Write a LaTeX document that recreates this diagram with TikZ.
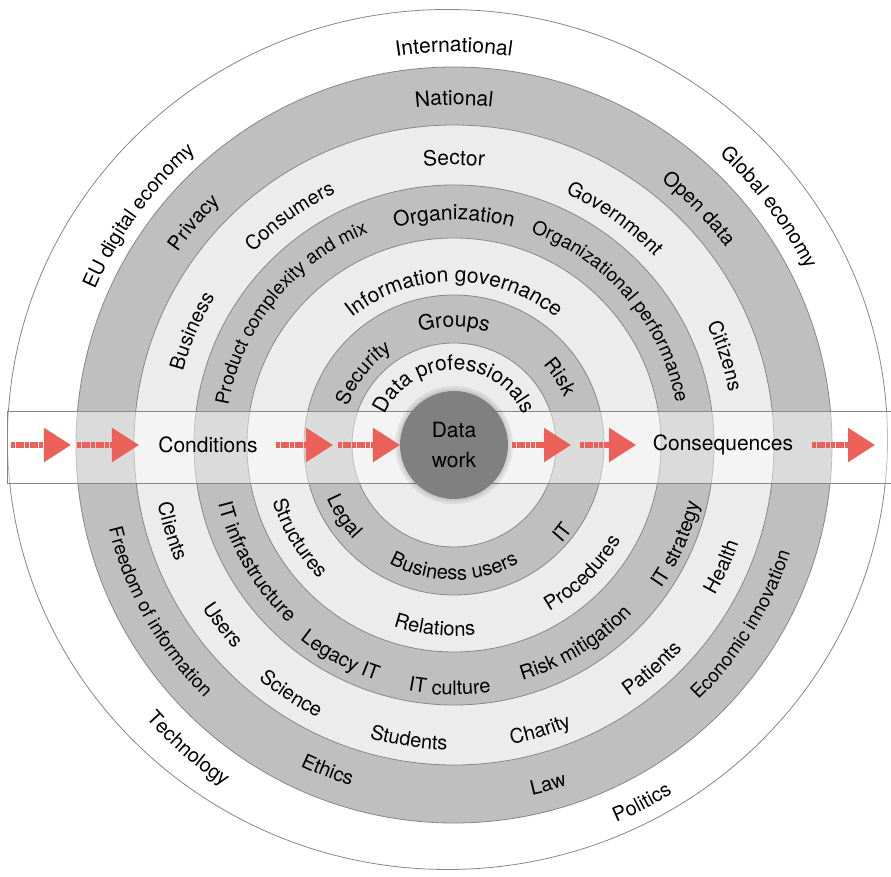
\documentclass[tikz,border=0pt]{standalone}
\usepackage{fontspec}
\setmainfont{TeX Gyre Heros}
\usetikzlibrary{arrows.meta,decorations.text}

\definecolor{ringdark}{RGB}{191,191,191}
\definecolor{ringlight}{RGB}{236,236,236}
\definecolor{ringline}{RGB}{135,135,135}
\definecolor{arrowred}{RGB}{236,96,90}
\definecolor{workgray}{RGB}{128,128,128}

\tikzset{
  ring/.style={draw=ringline, line width=0.8pt},
  flow/.style={arrowred, line width=5.5pt, dash pattern=on 4pt off 0.7pt,
    -{Triangle[length=27pt, width=33pt]}},
  worknode/.style={circle, fill=workgray, minimum size=108pt, inner sep=0pt, align=center},
}

\newcommand{\toplabel}[4][20]{%
  {\fontsize{#1}{24}\selectfont
  \path[decorate, decoration={text along path, text={#4}, text align=center}]
    ({#2+90}:{#3-7}) arc[start angle={#2+90}, end angle={#2-90}, radius={#3-7}];}}
\newcommand{\botlabel}[4][20]{%
  {\fontsize{#1}{24}\selectfont
  \path[decorate, decoration={text along path, text={#4}, text align=center}]
    ({#2-90}:{#3+7}) arc[start angle={#2-90}, end angle={#2+90}, radius={#3+7}];}}

\begin{document}
\begin{tikzpicture}[x=1pt, y=1pt]
      \fontsize{21}{30}\selectfont
      \useasboundingbox (-454,-432) rectangle (437,445);
      \coordinate (O) at (0,0);
      \draw[ring, fill=white] (-6.5,5.5) ellipse [x radius=440, y radius=430];
      \draw[ring, fill=ringdark] (O) circle (378);
      \draw[ring, fill=ringlight] (O) circle (320);
      \draw[ring, fill=ringdark] (O) circle (260);
      \draw[ring, fill=ringlight] (O) circle (207);
      \draw[ring, fill=ringdark] (O) circle (150);
      \draw[ring, fill=ringlight] (O) circle (102);
      \draw[ringline, line width=0.8pt, fill=white, fill opacity=0.45] (-447,-38) rectangle (450,34);
      \fill[black, opacity=0.07] (O) circle (59);
      \fill[black, opacity=0.07] (O) circle (56.5);
      \node[worknode] (work) at (O) {Data\\work};
      \node (cond) at (-246,0) {Conditions};
      \node (cons) at (269,0) {Consequences};
      \foreach \a/\b in {-443/-383, -377/-315, -178/-121, -116/-54, 58/117, 126/182, 358/421}
        \draw[flow] (\a,0) -- (\b,0);
      \toplabel[21]{90}{400}{International}
      \toplabel{144}{398}{EU digital economy}
      \toplabel{37}{400}{Global economy}
      \toplabel[21]{90}{347}{National}
      \toplabel{139.5}{344}{Privacy}
      \toplabel{44}{343}{Open data}
      \toplabel[21]{90}{287}{Sector}
      \toplabel{125.7}{285}{Consumers}
      \toplabel{54.6}{282}{Government}
      \toplabel{156.5}{288}{Business}
      \toplabel{18.2}{287}{Citizens}
      \toplabel[21]{90}{232}{Organization}
      \toplabel[19]{141}{236}{Product complexity and mix}
      \toplabel[19]{40.5}{233}{Organizational performance}
      \toplabel[21]{90}{170}{Information governance}
      \toplabel[21]{90}{125}{Groups}
      \toplabel{141.6}{120}{Security}
      \toplabel{32.8}{127}{Risk}
      \toplabel[21]{90}{82}{Data professionals}
      \botlabel{228.8}{405}{Technology}
      \botlabel{297.7}{404}{Politics}
      \botlabel[19]{209.5}{348}{Freedom of information}
      \botlabel{248.8}{349}{Ethics}
      \botlabel{285.5}{352}{Law}
      \botlabel[19]{328}{346}{Economic innovation}
      \botlabel{197}{295}{Clients}
      \botlabel{217.9}{293}{Users}
      \botlabel{236.8}{298}{Science}
      \botlabel{261.3}{298}{Students}
      \botlabel{286.8}{298}{Charity}
      \botlabel{311.5}{299}{Patients}
      \botlabel{335.5}{294}{Health}
      \botlabel{210.5}{236}{IT infrastructure}
      \botlabel{241.7}{241}{Legacy IT}
      \botlabel{269}{243}{IT culture}
      \botlabel{301.4}{238}{Risk mitigation}
      \botlabel{336}{245}{IT strategy}
      \botlabel{211}{183}{Structures}
      \botlabel{264}{184}{Relations}
      \botlabel{315}{185}{Procedures}
      \botlabel{213}{131}{Legal}
      \botlabel{270}{128}{Business users}
      \botlabel{321}{139}{IT}
\end{tikzpicture}
\end{document}
